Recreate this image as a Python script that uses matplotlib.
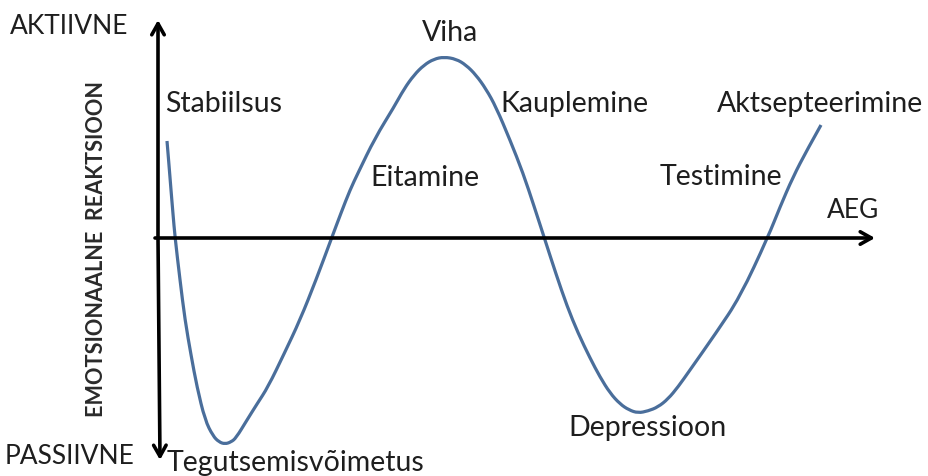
import matplotlib
matplotlib.use("Agg")
import matplotlib.pyplot as plt
from matplotlib.path import Path
from matplotlib.patches import PathPatch

# Curve: time (px from vertical axis) and reaction (px above horizontal axis)
curve_px_x = [167, 169, 171, 173, 175, 180, 185, 191, 197, 205, 213, 219, 225, 231, 236, 247, 257, 268,
              284, 300, 316, 332, 341, 350, 358, 375, 394, 404, 414, 424, 434, 444, 456, 466, 476,
              486, 496, 510, 523, 534, 545, 556, 567, 578, 590, 600, 610, 620, 629, 638, 648, 658, 668,
              678, 690, 716, 740, 768, 780, 793, 807, 821]
curve_px_y = [141, 165, 190, 214, 237, 280, 320, 355, 387, 420, 436, 442, 444, 442, 438, 420, 404, 387,
              354, 320, 280, 237, 213, 190, 173, 138, 107, 89, 75, 65, 59, 57, 59, 65, 75,
              89, 107, 140, 173, 206, 240, 274, 306, 333, 358, 377, 393, 404, 410, 413, 411, 407, 399,
              387, 370, 333, 297, 237, 207, 177, 150, 125]

X0, Y0 = 158, 238
time = [x - X0 for x in curve_px_x]
reaction = [Y0 - y for y in curve_px_y]

stage_labels = ["Stabiilsus", "Tegutsemisvõimetus", "Eitamine", "Viha", "Kauplemine",
                "Depressioon", "Testimine", "Aktsepteerimine"]
stage_x = [165, 167, 370, 422, 500, 568, 660, 717]
stage_y = [104, 463, 178, 33, 104, 428, 177, 104]

W, H = 929, 476
fig = plt.figure(figsize=(W / 100, H / 100), dpi=100)
ax = fig.add_axes([0, 0, 1, 1])
ax.set_xlim(-X0, W - X0)
ax.set_ylim(Y0 - H, Y0)
ax.axis("off")

family = ["Lato", "DejaVu Sans"]
txt_color = "#1e1e1e"
fs = 20.5
fs_caps = 19

# axes arrows
arrow_kw = dict(arrowstyle="->,head_length=0.8,head_width=0.45", color="black", lw=2.6,
                shrinkA=0, shrinkB=0)
ax.annotate("", xy=(0, Y0 - 20), xytext=(0, 0), arrowprops=arrow_kw)
ax.annotate("", xy=(2, Y0 - 460), xytext=(0, 0), arrowprops=arrow_kw)
ax.annotate("", xy=(875 - X0, 0), xytext=(-3, 0), arrowprops=arrow_kw)

# curve: read points used as quadratic Bezier controls for a smooth rendering
pts = list(zip(time, reaction))
verts = [pts[0]]
codes = [Path.MOVETO]
for i in range(1, len(pts) - 1):
    mid = ((pts[i][0] + pts[i + 1][0]) / 2, (pts[i][1] + pts[i + 1][1]) / 2)
    if i == len(pts) - 2:
        mid = pts[-1]
    verts += [pts[i], mid]
    codes += [Path.CURVE3, Path.CURVE3]
ax.add_patch(PathPatch(Path(verts, codes), facecolor="none", edgecolor="#4a6e9b", lw=2.3,
                       capstyle="butt", joinstyle="round"))

# axis labels
ax.text(10 - X0, Y0 - 26, "AKTIIVNE", fontsize=fs_caps, family=family, color=txt_color,
        ha="left", va="center")
ax.text(5 - X0, Y0 - 457, "PASSIIVNE", fontsize=fs_caps, family=family, color=txt_color,
        ha="left", va="center")
ax.text(827 - X0, Y0 - 210, "AEG", fontsize=fs_caps, family=family, color=txt_color,
        ha="left", va="center")
ax.text(97 - X0, Y0 - 249, "EMOTSIONAALNE  REAKTSIOON", fontsize=15.6, family=family,
        fontweight="bold", color="#2a2a2a", ha="center", va="center", rotation=90)

for lab, sx, sy in zip(stage_labels, stage_x, stage_y):
    ax.text(sx - X0, Y0 - sy, lab, fontsize=fs, family=family, color=txt_color,
            ha="left", va="center")

fig.savefig("out.png", dpi=100, facecolor="white")
